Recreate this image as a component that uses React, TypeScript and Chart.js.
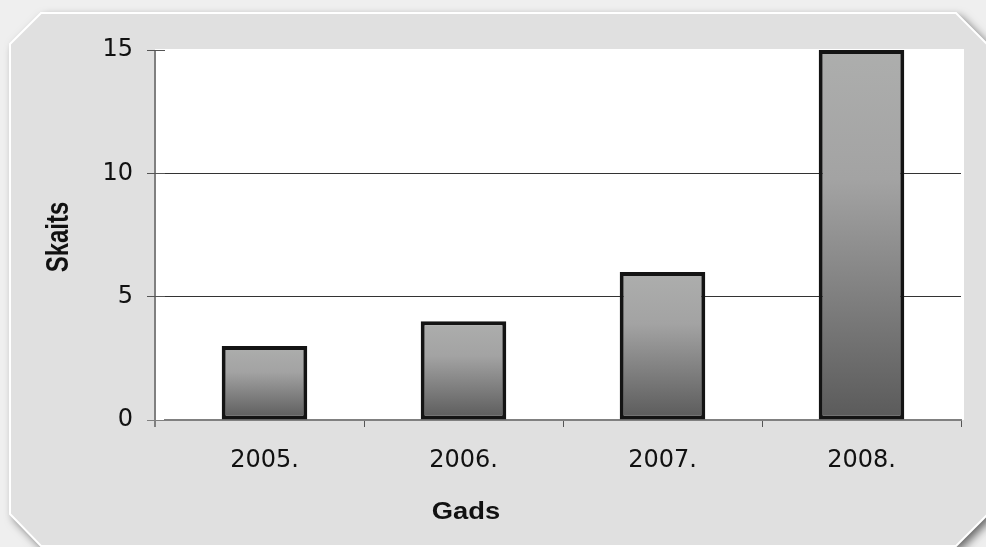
import React, { useEffect, useRef } from "react";
import { Chart, registerables } from "chart.js";

Chart.register(...registerables);

const categories = ["2005.", "2006.", "2007.", "2008."];
const counts = [3, 4, 6, 15];
const yTicks = [0, 5, 10, 15];
const yTitle = "Skaits";
const xTitle = "Gads";

const W = 986;
const H = 547;

const frameBg = {
  id: "frameBg",
  beforeDraw(chart: any) {
    const c = chart.ctx as CanvasRenderingContext2D;
    const area = chart.chartArea;
    c.save();
    c.fillStyle = "#efefef";
    c.fillRect(0, 0, chart.width, chart.height);
    const pts: [number, number][] = [
      [10, 44], [41, 13], [956, 13], [988, 45], [988, 514], [956, 546], [41, 546], [10, 514],
    ];
    c.beginPath();
    pts.forEach(([x, y], i) => (i ? c.lineTo(x, y) : c.moveTo(x, y)));
    c.closePath();
    c.shadowColor = "rgba(0,0,0,0.6)";
    c.shadowBlur = 10;
    c.shadowOffsetX = 4;
    c.shadowOffsetY = 4;
    c.fillStyle = "#e0e0e0";
    c.fill();
    c.shadowColor = "transparent";
    c.strokeStyle = "#ffffff";
    c.lineWidth = 2;
    c.stroke();
    c.fillStyle = "#ffffff";
    c.fillRect(155, area.top - 1, 964 - 155, area.bottom - area.top + 1);
    c.strokeStyle = "#808080";
    c.lineWidth = 2;
    c.beginPath();
    c.moveTo(155, area.top);
    c.lineTo(155, area.bottom + 7);
    c.stroke();
    c.restore();
  },
  afterDraw(chart: any) {
    const c = chart.ctx as CanvasRenderingContext2D;
    c.save();
    c.fillStyle = "#111111";
    c.textAlign = "center";
    c.textBaseline = "middle";
    c.font = "bold 24px 'Liberation Sans', Arial, sans-serif";
    c.save();
    c.translate(59, 237);
    c.scale(1.3, 1);
    c.rotate(-Math.PI / 2);
    c.fillText(yTitle, 0, 0);
    c.restore();
    c.save();
    c.translate(466, 512);
    c.scale(1.14, 1);
    c.fillText(xTitle, 0, 0);
    c.restore();
    c.restore();
  },
};

function barFill(ctx: any) {
  if (ctx.type !== "data") return "#999999";
  const chart = ctx.chart;
  const ys = chart.scales && chart.scales.y;
  if (!ys) return "#999999";
  const top = ys.getPixelForValue(ctx.raw as number);
  const base = ys.getPixelForValue(0);
  if (!isFinite(top) || !isFinite(base) || top === base) return "#999999";
  const g = chart.ctx.createLinearGradient(0, top, 0, base);
  g.addColorStop(0, "#adaead");
  g.addColorStop(0.35, "#a3a3a3");
  g.addColorStop(1, "#5a5a5a");
  return g;
}

export default function App() {
  const ref = useRef<HTMLCanvasElement | null>(null);
  useEffect(() => {
    if (!ref.current) return;
    const chart = new Chart(ref.current, {
      type: "bar",
      data: {
        labels: categories,
        datasets: [
          {
            data: counts,
            backgroundColor: barFill as any,
            borderColor: "#141414",
            borderWidth: 4,
            borderSkipped: false,
            barPercentage: 0.43,
            categoryPercentage: 1,
          },
        ],
      },
      options: {
        responsive: false,
        animation: false,
        devicePixelRatio: 1,
        layout: { padding: { left: 0, top: 50, right: 25, bottom: 0 } },
        plugins: { legend: { display: false }, tooltip: { enabled: false }, title: { display: false } },
        scales: {
          x: {
            afterFit: (s: any) => {
              s.height = 127;
            },
            grid: {
              drawOnChartArea: false,
              offset: true,
              tickLength: 7,
              tickColor: (c: any) => (c.index === 0 ? "rgba(0,0,0,0)" : "#555555"),
              lineWidth: 1,
            },
            border: { display: true, color: "#808080", width: 2 },
            ticks: {
              color: "#111111",
              padding: 19,
              font: { family: "'DejaVu Sans', sans-serif", size: 24 },
            },
          },
          y: {
            min: 0,
            max: 15,
            afterFit: (s: any) => {
              s.width = 165;
            },
            afterBuildTicks: (s: any) => {
              s.ticks = yTicks.map((v) => ({ value: v }));
            },
            grid: {
              color: (c: any) => (c.tick && (c.tick.value === 15 || c.tick.value === 0) ? "rgba(0,0,0,0)" : "#333333"),
              tickColor: (c: any) => (c.tick && c.tick.value === 0 ? "#808080" : "#555555"),
              lineWidth: 1,
              tickLength: 18,
            },
            border: { display: false },
            ticks: {
              color: "#111111",
              padding: 14,
              font: { family: "'DejaVu Sans', sans-serif", size: 24 },
            },
          },
        },
      },
      plugins: [frameBg],
    });
    return () => chart.destroy();
  }, []);
  return (
    <div style={{ position: "fixed", left: 0, top: 0, width: W, height: H }}>
      <canvas ref={ref} width={W} height={H} style={{ width: W, height: H, display: "block" }} />
    </div>
  );
}
